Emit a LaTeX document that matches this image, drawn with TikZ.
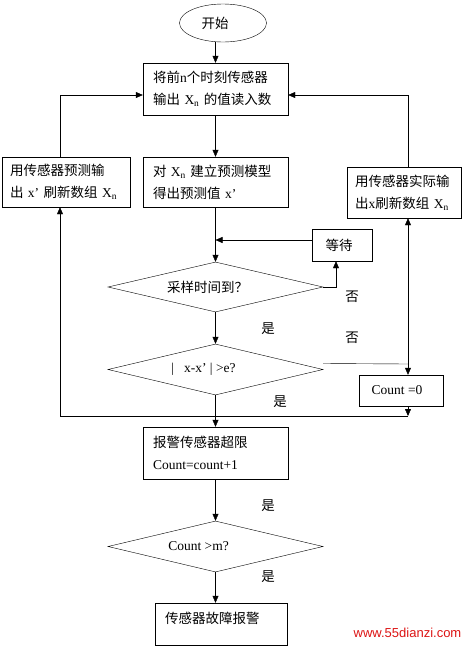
\documentclass[tikz,border=0pt]{standalone}
\usepackage{fontspec}
\setmainfont{Liberation Serif}
\newfontfamily\cjk{Noto Sans CJK SC}
\newfontfamily\webfont{Liberation Sans}
\usetikzlibrary{shapes.geometric,arrows.meta}
\definecolor{siteRed}{RGB}{220,20,20}
\newcommand{\zh}[1]{{\cjk #1}}

\begin{document}
\begin{tikzpicture}
[x=1pt,y=-1pt,
  lineDecorate/.style={-{Triangle[length=7pt,width=6pt]},thin},
  plainDecorate/.style={-,thin},
  boxDecorate/.style={shape=rectangle,draw,thin,inner xsep=10pt,inner ysep=0pt,align=left},
  choiceDecorate/.style={shape=diamond,draw,thin,inner sep=0pt,aspect=4.2,minimum width=215pt,minimum height=51pt},
  startDecorate/.style={shape=ellipse,draw,thin,inner sep=0pt,minimum width=87pt,minimum height=38pt},
  labelDecorate/.style={inner sep=0pt}]
\fontsize{13.5}{22}\selectfont
\useasboundingbox (0,0) rectangle (468,646);
%% start and boxes
\node (start) at (223,23) [startDecorate] {\zh{开始}\hspace*{16pt}};
\node (read) at (215.5,89) [boxDecorate,minimum width=145pt,minimum height=52pt,text width=125pt]
  {\zh{将前}n\zh{个时刻传感器}\\\zh{输出} X\textsubscript{n} \zh{的值读入数}};
\node (model) at (215.5,182) [boxDecorate,minimum width=145pt,minimum height=50pt,text width=125pt]
  {\zh{对} X\textsubscript{n} \zh{建立预测模型}\\\zh{得出预测值} x’};
\node (predict) at (66,182) [boxDecorate,inner xsep=8pt,minimum width=128pt,minimum height=50pt,text width=112pt]
  {\zh{用传感器预测输}\\\zh{出} x’ \zh{刷新数组} X\textsubscript{n}};
\node (actual) at (404,192.5) [boxDecorate,inner xsep=8pt,minimum width=114pt,minimum height=51pt,text width=98pt]
  {\zh{用传感器实际输}\\\zh{出}x\zh{刷新数组} X\textsubscript{n}};
\node (wait) at (342,245) [boxDecorate,minimum width=60pt,minimum height=32pt,align=center] {\zh{等待}\hspace*{6pt}};
\node (count) at (401,390.5) [boxDecorate,minimum width=84pt,minimum height=31pt,align=center] {Count =0\hspace*{8pt}};
\node (alarm) at (215.5,453) [boxDecorate,minimum width=145pt,minimum height=52pt,text width=125pt]
  {\zh{报警传感器超限}\\Count=count+1};
\node (fault) at (221,624) [boxDecorate,minimum width=132pt,minimum height=42pt,text width=112pt]
  {\zh{传感器故障报警}\\[-10pt]\mbox{}};
%% decisions
\node (d1) at (215.5,287) [choiceDecorate,minimum height=50pt] {\zh{采样时间到？}\hspace*{16pt}};
\node (d2) at (215.5,369.5) [choiceDecorate] {|\hspace{10pt}x-x’ | >e?\hspace*{24pt}};
\node (d3) at (215.5,546.5) [choiceDecorate] {Count >m?\hspace*{34pt}};
%% labels
\foreach \nodename/\x/\y/\words in {no1/352/297/否, yes1/268/329/是, no2/352/338/否,
  yes2/280/402/是, yes3/268/506/是, yes4/268/577/是}
{
  \node (\nodename) at (\x,\y) [labelDecorate] {\zh{\words}};
}
\node (site) at (407.5,633) [labelDecorate,text=siteRed,font=\webfont\fontsize{13}{13}\selectfont] {www.55dianzi.com};
%% turning points
\coordinate (waitIn) at (215.5,240);
\coordinate (waitUp) at (336,287);
\coordinate (jn) at (408,364);
\coordinate (br) at (408,416);
\coordinate (bl) at (60,416);
\coordinate (tl) at (60,95);
\coordinate (tr) at (408,95);
%% edges or lines
\draw[lineDecorate] (read.north |- start.south) -- (read.north);
\foreach \startnode/\endnode in {read/model, model/d1, d1/d2, d2/alarm, alarm/d3, d3/fault}
{
  \draw[lineDecorate] (\startnode.south) -- (\startnode.south |- \endnode.north);
}
\draw[lineDecorate] (wait.west |- waitIn) -- (waitIn);
\draw[lineDecorate] (d1.east) -- (waitUp) -- (waitUp |- wait.south);
\draw[plainDecorate] ([yshift=6pt]d2.east) -- (jn);
\draw[lineDecorate] (jn) -- (jn |- count.north);
\draw[lineDecorate] (jn) -- (jn |- actual.south);
\draw[lineDecorate] (count.south -| br) -- (br);
\draw[plainDecorate] (br) -- (bl);
\draw[lineDecorate] (bl) -- (bl |- predict.south);
\draw[lineDecorate] (predict.north -| tl) -- (tl) -- (tl -| read.west);
\draw[lineDecorate] (actual.north -| tr) -- (tr) -- (tr -| read.east);
\end{tikzpicture}
\end{document}
